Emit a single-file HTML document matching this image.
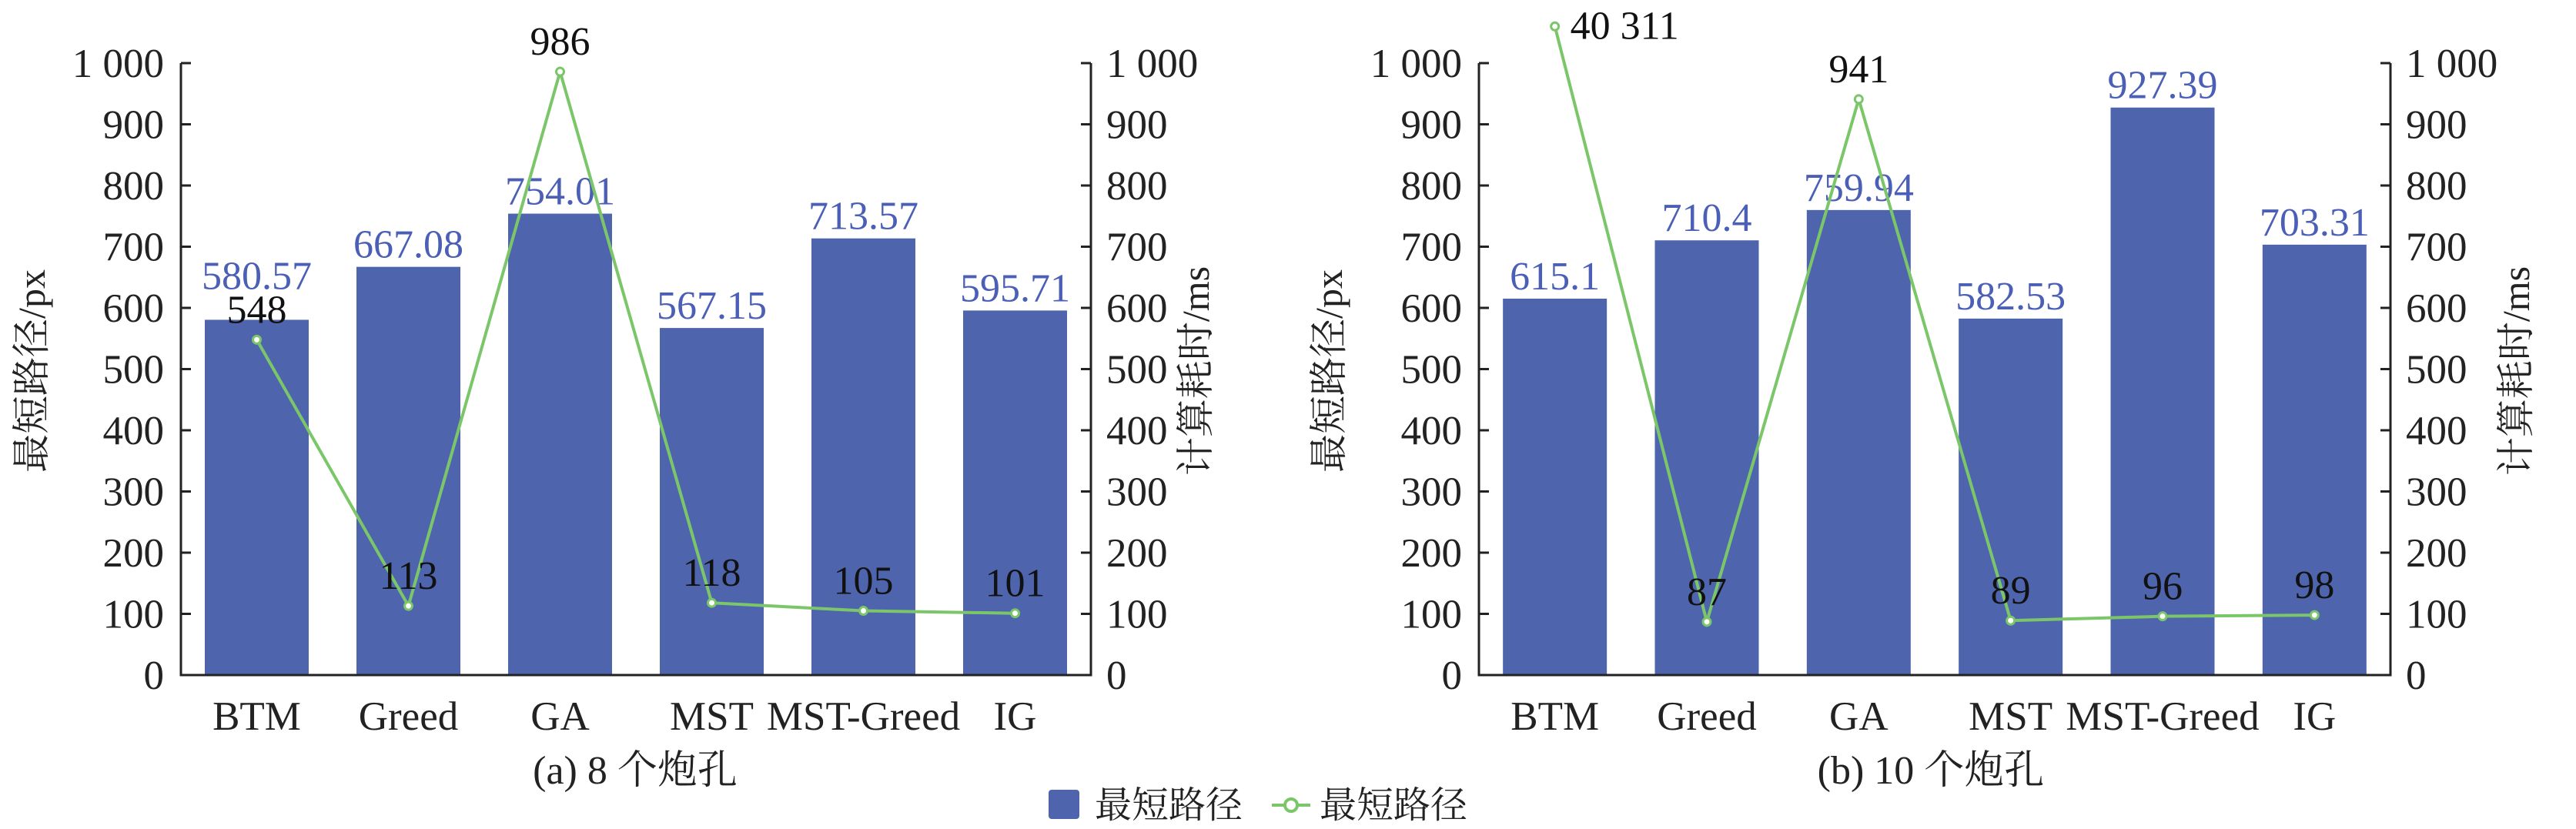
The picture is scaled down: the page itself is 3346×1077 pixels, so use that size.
<!DOCTYPE html>
<html><head><meta charset="utf-8"><style>
html,body{margin:0;padding:0;background:#fff;}
svg{display:block;}
text{font-family:"Liberation Serif","Noto Serif CJK SC","Noto Sans CJK SC",serif;}
</style></head><body>
<svg id="chart" width="3346" height="1077" viewBox="0 0 3346 1077" xmlns="http://www.w3.org/2000/svg">
<g id="panels"></g>
<g>
<rect x="1362" y="1026" width="40" height="38" rx="4" fill="#4e65ae"/>
<text x="1422" y="1062" font-size="48" fill="#222">最短路径</text>
<line x1="1652" y1="1046" x2="1702" y2="1046" stroke="#7cc66a" stroke-width="4"/>
<circle cx="1677" cy="1046" r="8" fill="#fff" stroke="#7cc66a" stroke-width="4"/>
<text x="1714" y="1062" font-size="48" fill="#222">最短路径</text>
</g>
</svg>
<script>
const categories = ["BTM","Greed","GA","MST","MST-Greed","IG"];
const pathA = [580.57,667.08,754.01,567.15,713.57,595.71];
const timeA = [548,113,986,118,105,101];
const pathB = [615.1,710.4,759.94,582.53,927.39,703.31];
const timeB = [40311,87,941,89,96,98];
const pathLabelsA = ["580.57","667.08","754.01","567.15","713.57","595.71"];
const pathLabelsB = ["615.1","710.4","759.94","582.53","927.39","703.31"];
const timeLabelsA = ["548","113","986","118","105","101"];
const timeLabelsB = ["40 311","87","941","89","96","98"];
const tickValues = [0,100,200,300,400,500,600,700,800,900,1000];
const tickLabels = ["0","100","200","300","400","500","600","700","800","900","1 000"];
const captions = ["(a) 8 个炮孔","(b) 10 个炮孔"];

const NS="http://www.w3.org/2000/svg";
const root=document.getElementById('panels');
function mk(tag,attrs,parent,txt){const e=document.createElementNS(NS,tag);for(const k in attrs)e.setAttribute(k,attrs[k]);if(txt!==undefined)e.textContent=txt;parent.appendChild(e);return e;}
const Y0=877, K=0.795, MAXV=1000, CAP=1060;
function yScale(v){return Y0-Math.min(v,CAP)*K;}

function panel(idx,xL,xR,path,time,pl,tl,titleLX,titleRX,capX){
  const g=mk('g',{},root);
  
  
  const slot=(xR-xL)/categories.length;
  const xC=i=>xL+slot*(i+0.5);
  const bw=135;
  // bars
  path.forEach((v,i)=>{
    const r=mk('rect',{x:xC(i)-bw/2,y:yScale(v),width:bw,height:Y0-yScale(v),fill:'#4e65ae'},g);
    
    
    let dy=12;
    if(idx===0&&i===0)dy=40;
    const t=mk('text',{x:xC(i),y:yScale(v)-dy,'font-size':52,'text-anchor':'middle',fill:'#4a5fb5'},g,pl[i]);
    
    
  });
  // axes
  const ax=mk('path',{d:`M${xL} ${yScale(MAXV)}V${Y0}H${xR}V${yScale(MAXV)}`,fill:'none',stroke:'#222','stroke-width':3},g);
  
  
  tickValues.forEach((v,i)=>{
    const y=yScale(v);
    const tk=mk('path',{d:`M${xL} ${y}h13M${xR} ${y}h-13`,stroke:'#222','stroke-width':3},g);
    
    
    const a=mk('text',{x:xL-22,y:y+18,'font-size':53,'text-anchor':'end',fill:'#222'},g,tickLabels[i]);
    
    
    const b=mk('text',{x:xR+20,y:y+18,'font-size':53,'text-anchor':'start',fill:'#222'},g,tickLabels[i]);
    
    
  });
  categories.forEach((c,i)=>{
    const t=mk('text',{x:xC(i),y:948,'font-size':53,'text-anchor':'middle',fill:'#222'},g,c);
    
    
  });
  // line
  const pts=time.map((v,i)=>xC(i)+','+yScale(v)).join(' ');
  const pl2=mk('polyline',{points:pts,fill:'none',stroke:'#7cc66a','stroke-width':4},g);
  
  
  time.forEach((v,i)=>{
    const c=mk('circle',{cx:xC(i),cy:yScale(v),r:5,fill:'#fff',stroke:'#7cc66a','stroke-width':3},g);
    
    
    let tx=xC(i),ty=yScale(v)-22,anc='middle';
    if(v>CAP){tx=xC(i)+20;ty=yScale(v)+16;anc='start';}
    const t=mk('text',{x:tx,y:ty,'font-size':52,'text-anchor':anc,fill:'#111'},g,tl[i]);
    
    
  });
  const yt=mk('text',{transform:`translate(${titleLX},482) rotate(-90)`,'font-size':50,'text-anchor':'middle',fill:'#222'},g,'最短路径/px');
  
  
  const yr=mk('text',{transform:`translate(${titleRX},482) rotate(-90)`,'font-size':50,'text-anchor':'middle',fill:'#222'},g,'计算耗时/ms');
  
  
  const cp=mk('text',{x:capX,y:1018,'font-size':52,'text-anchor':'middle',fill:'#222'},g,captions[idx]);
  
  
}
panel(0,235,1417,pathA,timeA,pathLabelsA,timeLabelsA,58,1570,825);
panel(1,1921,3105,pathB,timeB,pathLabelsB,timeLabelsB,1743,3285,2508);
</script>
</body></html>
